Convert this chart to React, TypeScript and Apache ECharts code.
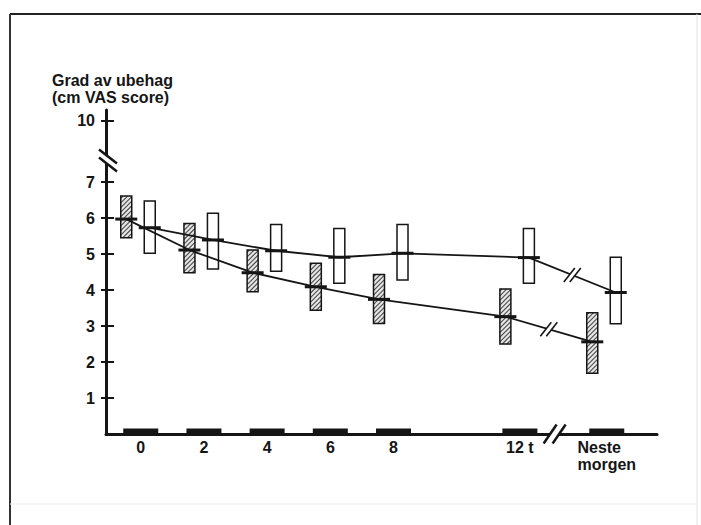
import React, { useEffect, useRef } from "react";
import * as echarts from "echarts";

// ---- data ----
const timeHours = [0, 2, 4, 6, 8, 12, 14.75];
const timeLabels = ["0", "2", "4", "6", "8", "12 t", "Neste\nmorgen"];
const yTickValues = [1, 2, 3, 4, 5, 6, 7, 8.7];
const yTickLabels = ["1", "2", "3", "4", "5", "6", "7", "10"];

// hatched boxes (group A)
const hatchedMean = [5.97, 5.11, 4.48, 4.09, 3.74, 3.26, 2.56];
const hatchedLow = [5.45, 4.48, 3.95, 3.44, 3.07, 2.5, 1.69];
const hatchedHigh = [6.61, 5.85, 5.11, 4.74, 4.43, 4.03, 3.37];
// open boxes (group B)
const openMean = [5.73, 5.39, 5.09, 4.91, 5.02, 4.9, 3.93];
const openLow = [5.02, 4.58, 4.52, 4.19, 4.28, 4.19, 3.06];
const openHigh = [6.47, 6.13, 5.82, 5.71, 5.82, 5.71, 4.91];

const xMin = -1.1;
const xMax = 16.34;
const yMin = 0;
const yMax = 9;
const xBreakAt = 13.1;
const yBreakAt = 7.6;

const FONT = "'Liberation Sans', Arial, Helvetica, sans-serif";
const INK = "#151515";

function findLabel(values: number[], labels: string[], v: number) {
  const i = values.findIndex((t) => Math.abs(t - v) < 1e-6);
  return i >= 0 ? labels[i] : "";
}

function hatchLines(x0: number, y0: number, w: number, h: number, step: number) {
  const out: any[] = [];
  for (let c = x0 + y0 + step / 2; c < x0 + w + y0 + h; c += step) {
    const xa = Math.max(x0, c - y0 - h);
    const xb = Math.min(x0 + w, c - y0);
    if (xb > xa) {
      out.push({
        type: "line",
        shape: { x1: xa, y1: c - xa, x2: xb, y2: c - xb },
        style: { stroke: "#4a4a4a", lineWidth: 1.1 },
      });
    }
  }
  return out;
}

function slashPair(mx: number, my: number, hx: number, hy: number, sep: number, width: number, dir: 1 | -1) {
  const out: any[] = [];
  let a1: number[], a2: number[], b1: number[], b2: number[];
  if (dir === 1) {
    a1 = [mx - sep - hx, my + hy]; a2 = [mx - sep + hx, my - hy];
    b1 = [mx + sep - hx, my + hy]; b2 = [mx + sep + hx, my - hy];
  } else {
    a1 = [mx - hx, my - sep - hy]; a2 = [mx + hx, my - sep + hy];
    b1 = [mx - hx, my + sep - hy]; b2 = [mx + hx, my + sep + hy];
  }
  out.push({ type: "polygon", shape: { points: [a1, a2, b2, b1] }, style: { fill: "#fff" } });
  out.push({ type: "line", shape: { x1: a1[0], y1: a1[1], x2: a2[0], y2: a2[1] }, style: { stroke: INK, lineWidth: width } });
  out.push({ type: "line", shape: { x1: b1[0], y1: b1[1], x2: b2[0], y2: b2[1] }, style: { stroke: INK, lineWidth: width } });
  return out;
}

function boxSeries(low: number[], high: number[], mean: number[], offset: number, hatched: boolean) {
  return {
    type: "custom",
    z: 2,
    data: timeHours.map((t, i) => [t, low[i], high[i], mean[i]]),
    encode: { x: 0, y: [1, 2, 3] },
    renderItem: (params: any, api: any) => {
      const t = api.value(0);
      const cx = api.coord([t, 0])[0] + offset;
      const yl = api.coord([t, api.value(1)])[1];
      const yh = api.coord([t, api.value(2)])[1];
      const ym = api.coord([t, api.value(3)])[1];
      const w = 11;
      const x0 = cx - w / 2;
      const children: any[] = [
        { type: "rect", shape: { x: x0, y: yh, width: w, height: yl - yh }, style: { fill: hatched ? "#e6e6e6" : "#fff", stroke: "none" } },
      ];
      if (hatched) children.push(...hatchLines(x0, yh, w, yl - yh, 4.6));
      children.push({ type: "rect", shape: { x: x0, y: yh, width: w, height: yl - yh }, style: { fill: "none", stroke: INK, lineWidth: 1.5 } });
      children.push({ type: "line", shape: { x1: cx - 11, y1: ym, x2: cx + 11, y2: ym }, style: { stroke: INK, lineWidth: 3 } });
      return { type: "group", children };
    },
  };
}

function lineSeries(mean: number[], offset: number) {
  return {
    type: "custom",
    z: 3,
    data: timeHours.map((t, i) => [t, mean[i]]),
    encode: { x: 0, y: 1 },
    renderItem: (params: any, api: any) => {
      const i = params.dataIndexInside;
      const n = params.dataInsideLength;
      if (i >= n - 1) return { type: "group", children: [] };
      const p1 = api.coord([api.value(0, i), api.value(1, i)]);
      const p2 = api.coord([api.value(0, i + 1), api.value(1, i + 1)]);
      const children: any[] = [
        { type: "line", shape: { x1: p1[0] + offset, y1: p1[1], x2: p2[0] + offset, y2: p2[1] }, style: { stroke: INK, lineWidth: 1.8 } },
      ];
      if (i === n - 2) {
        const mx = (p1[0] + p2[0]) / 2 + offset;
        const my = (p1[1] + p2[1]) / 2;
        children.push(...slashPair(mx, my, 5.5, 7, 3, 1.6, 1));
      }
      return { type: "group", children };
    },
  };
}

export default function App() {
  const ref = useRef<HTMLDivElement>(null);
  useEffect(() => {
    if (!ref.current) return;
    const chart = echarts.init(ref.current, null, { renderer: "svg" });
    const labelStyle = { fontFamily: FONT, fontWeight: "bold" as const, fontSize: 16, color: INK };
    chart.setOption({
      animation: false,
      backgroundColor: "#fff",
      grid: { left: 106, right: 44, top: 110, bottom: 91, containLabel: false, outerBoundsMode: "none" },
      xAxis: {
        type: "value",
        min: xMin,
        max: xMax,
        axisLine: { show: true, onZero: false, lineStyle: { color: INK, width: 3 } },
        axisTick: { show: false },
        splitLine: { show: false },
        axisLabel: {
          ...labelStyle,
          customValues: timeHours,
          margin: 5,
          lineHeight: 17,
          formatter: (v: number) =>
            findLabel(timeHours, timeLabels, v)
              .split("\n")
              .map((s) => `{l|${s}}`)
              .join("\n"),
          rich: { l: { ...labelStyle, align: "left", lineHeight: 17 } },
        },
      },
      yAxis: [
        {
          type: "value",
          min: yMin,
          max: yMax,
          axisLine: { show: true, onZero: false, lineStyle: { color: INK, width: 3 } },
          axisTick: { show: true, inside: true, length: 8, customValues: yTickValues, lineStyle: { color: INK, width: 2 } },
          splitLine: { show: false },
          axisLabel: {
            ...labelStyle,
            customValues: yTickValues,
            margin: 11,
            formatter: (v: number) => findLabel(yTickValues, yTickLabels, v),
          },
        },
        {
          type: "value",
          min: yMin,
          max: yMax,
          position: "left",
          offset: 0,
          axisLine: { show: false, onZero: false },
          axisTick: { show: true, inside: false, length: 5, customValues: yTickValues, lineStyle: { color: INK, width: 2 } },
          splitLine: { show: false },
          axisLabel: { show: false },
        },
      ],
      graphic: [
        { type: "line", shape: { x1: 10, y1: 14, x2: 701, y2: 14 }, style: { stroke: "#222", lineWidth: 2 } },
        { type: "line", shape: { x1: 10, y1: 14, x2: 10, y2: 525 }, style: { stroke: "#333", lineWidth: 2 } },
        { type: "line", shape: { x1: 697, y1: 14, x2: 697, y2: 525 }, style: { stroke: "#e4e4e4", lineWidth: 1 } },
        { type: "line", shape: { x1: 10, y1: 504, x2: 697, y2: 504 }, style: { stroke: "#ececec", lineWidth: 1 } },
        {
          type: "text",
          left: 52,
          top: 72,
          style: { text: "Grad av ubehag\n(cm VAS score)", font: `bold 16px ${FONT}`, fill: INK, lineHeight: 17 },
        },
      ],
      series: [
        {
          type: "custom",
          z: 2,
          data: timeHours.map((t) => [t, 0]),
          encode: { x: 0, y: 1 },
          renderItem: (params: any, api: any) => {
            const p = api.coord([api.value(0), 0]);
            return { type: "rect", shape: { x: p[0] - 17.5, y: p[1] - 5.5, width: 35, height: 5 }, style: { fill: INK } };
          },
        },
        boxSeries(hatchedLow, hatchedHigh, hatchedMean, -14.5, true),
        boxSeries(openLow, openHigh, openMean, 9, false),
        lineSeries(hatchedMean, -14.5),
        lineSeries(openMean, 9),
        {
          type: "custom",
          z: 4,
          data: [[xBreakAt, yMin], [xMin, yBreakAt]],
          encode: { x: 0, y: 1 },
          renderItem: (params: any, api: any) => {
            const p = api.coord([api.value(0), api.value(1)]);
            if (params.dataIndexInside === 0) {
              return { type: "group", children: slashPair(p[0], p[1], 6.5, 9.5, 4.5, 2.5, 1) };
            }
            return { type: "group", children: slashPair(p[0] + 2, p[1], 9, 7, 4, 2.5, -1) };
          },
        },
      ],
    });
    return () => chart.dispose();
  }, []);
  return (
    <div
      ref={ref}
      style={{ position: "fixed", left: 0, top: 0, width: 701, height: 525, background: "#fff" }}
    />
  );
}
